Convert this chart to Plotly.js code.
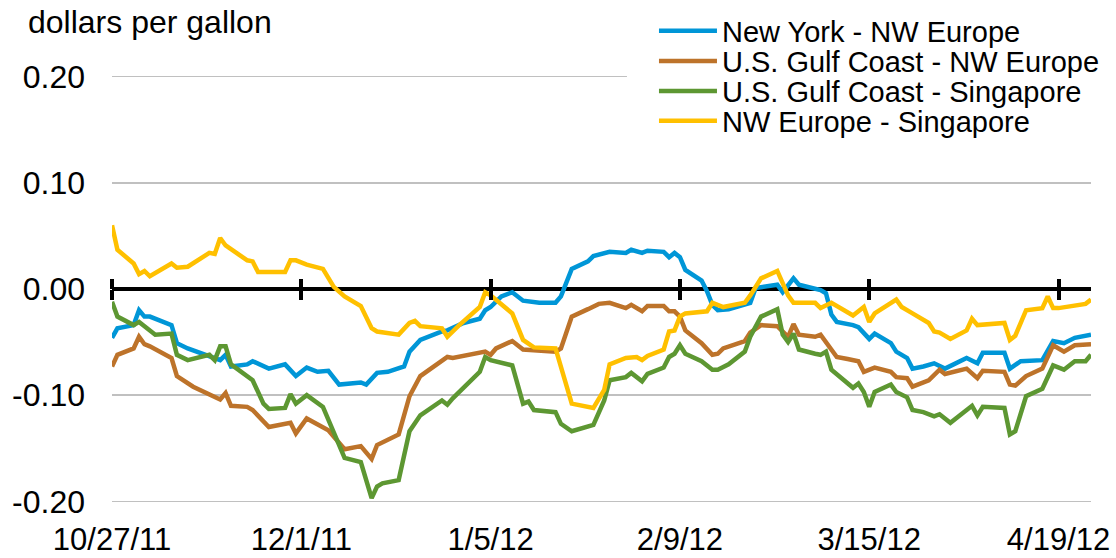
<!DOCTYPE html>
<html>
<head>
<meta charset="utf-8">
<script src="https://cdn.plot.ly/plotly-3.0.1.min.js"></script>
<style>html,body{margin:0;padding:0;background:#fff;}#chart{width:1116px;height:558px;}</style>
</head>
<body>
<div id="chart"></div>
<script>
// ---------- data ----------
const seriesNames = ["New York - NW Europe", "U.S. Gulf Coast - NW Europe", "U.S. Gulf Coast - Singapore", "NW Europe - Singapore"];

const nyDates = ["2011-10-27","2011-10-28","2011-10-31","2011-11-01","2011-11-02","2011-11-03","2011-11-07","2011-11-08","2011-11-10","2011-11-13","2011-11-16","2011-11-17","2011-11-18","2011-11-21","2011-11-22","2011-11-25","2011-11-28","2011-11-30","2011-12-02","2011-12-04","2011-12-06","2011-12-08","2011-12-12","2011-12-13","2011-12-15","2011-12-17","2011-12-20","2011-12-21","2011-12-23","2011-12-27","2011-12-28","2011-12-31","2012-01-03","2012-01-04","2012-01-05","2012-01-07","2012-01-09","2012-01-11","2012-01-14","2012-01-17","2012-01-18","2012-01-20","2012-01-23","2012-01-24","2012-01-26","2012-01-27","2012-01-30","2012-01-31","2012-02-02","2012-02-03","2012-02-06","2012-02-07","2012-02-08","2012-02-09","2012-02-10","2012-02-13","2012-02-14","2012-02-15","2012-02-16","2012-02-18","2012-02-22","2012-02-23","2012-02-27","2012-02-28","2012-03-01","2012-03-02","2012-03-06","2012-03-07","2012-03-08","2012-03-09","2012-03-12","2012-03-13","2012-03-15","2012-03-16","2012-03-19","2012-03-20","2012-03-22","2012-03-23","2012-03-25","2012-03-27","2012-03-29","2012-04-02","2012-04-04","2012-04-05","2012-04-09","2012-04-10","2012-04-12","2012-04-16","2012-04-18","2012-04-20","2012-04-22","2012-04-25"];
const nyValues = [-0.046,-0.037,-0.034,-0.020,-0.026,-0.026,-0.034,-0.051,-0.056,-0.062,-0.067,-0.062,-0.073,-0.071,-0.068,-0.075,-0.071,-0.082,-0.074,-0.078,-0.077,-0.090,-0.088,-0.090,-0.079,-0.078,-0.073,-0.059,-0.048,-0.040,-0.039,-0.032,-0.028,-0.020,-0.017,-0.007,-0.003,-0.011,-0.013,-0.013,-0.007,0.019,0.026,0.031,0.034,0.035,0.034,0.037,0.034,0.036,0.035,0.030,0.034,0.030,0.018,0.008,-0.002,-0.015,-0.020,-0.019,-0.013,0.001,0.004,-0.003,0.010,0.004,-0.001,-0.004,-0.024,-0.031,-0.034,-0.036,-0.047,-0.042,-0.051,-0.059,-0.065,-0.075,-0.073,-0.070,-0.075,-0.065,-0.070,-0.060,-0.060,-0.075,-0.068,-0.067,-0.049,-0.051,-0.046,-0.043];

const gcEuDates = ["2011-10-27","2011-10-28","2011-10-31","2011-11-01","2011-11-02","2011-11-03","2011-11-07","2011-11-08","2011-11-11","2011-11-15","2011-11-16","2011-11-17","2011-11-18","2011-11-21","2011-11-22","2011-11-25","2011-11-29","2011-11-30","2011-12-02","2011-12-06","2011-12-09","2011-12-12","2011-12-14","2011-12-15","2011-12-19","2011-12-21","2011-12-23","2011-12-28","2011-12-29","2012-01-04","2012-01-05","2012-01-06","2012-01-09","2012-01-11","2012-01-17","2012-01-18","2012-01-20","2012-01-23","2012-01-25","2012-01-27","2012-01-30","2012-01-31","2012-02-02","2012-02-03","2012-02-06","2012-02-07","2012-02-08","2012-02-09","2012-02-10","2012-02-13","2012-02-15","2012-02-16","2012-02-17","2012-02-21","2012-02-22","2012-02-24","2012-02-27","2012-02-29","2012-03-01","2012-03-02","2012-03-05","2012-03-06","2012-03-07","2012-03-09","2012-03-11","2012-03-13","2012-03-14","2012-03-16","2012-03-19","2012-03-20","2012-03-22","2012-03-23","2012-03-26","2012-03-28","2012-03-29","2012-04-02","2012-04-04","2012-04-05","2012-04-09","2012-04-10","2012-04-11","2012-04-13","2012-04-16","2012-04-18","2012-04-20","2012-04-22","2012-04-25"];
const gcEuValues = [-0.073,-0.062,-0.056,-0.045,-0.052,-0.054,-0.065,-0.082,-0.092,-0.101,-0.104,-0.098,-0.110,-0.111,-0.114,-0.130,-0.126,-0.136,-0.122,-0.133,-0.151,-0.148,-0.160,-0.147,-0.137,-0.101,-0.082,-0.064,-0.065,-0.059,-0.062,-0.056,-0.049,-0.057,-0.059,-0.056,-0.026,-0.019,-0.014,-0.013,-0.018,-0.015,-0.021,-0.016,-0.016,-0.021,-0.021,-0.026,-0.039,-0.051,-0.062,-0.061,-0.056,-0.049,-0.041,-0.034,-0.035,-0.045,-0.033,-0.043,-0.045,-0.043,-0.050,-0.064,-0.066,-0.068,-0.078,-0.074,-0.078,-0.083,-0.084,-0.092,-0.086,-0.076,-0.080,-0.075,-0.084,-0.077,-0.078,-0.090,-0.091,-0.082,-0.075,-0.053,-0.059,-0.053,-0.052];

const gcSgDates = ["2011-10-27","2011-10-28","2011-10-31","2011-11-01","2011-11-04","2011-11-07","2011-11-08","2011-11-10","2011-11-14","2011-11-15","2011-11-16","2011-11-17","2011-11-18","2011-11-21","2011-11-22","2011-11-24","2011-11-25","2011-11-28","2011-11-29","2011-11-30","2011-12-02","2011-12-05","2011-12-07","2011-12-09","2011-12-12","2011-12-14","2011-12-15","2011-12-16","2011-12-19","2011-12-21","2011-12-23","2011-12-27","2011-12-28","2011-12-29","2012-01-03","2012-01-04","2012-01-05","2012-01-09","2012-01-11","2012-01-12","2012-01-13","2012-01-17","2012-01-18","2012-01-20","2012-01-24","2012-01-26","2012-01-27","2012-01-30","2012-01-31","2012-02-02","2012-02-03","2012-02-06","2012-02-07","2012-02-08","2012-02-09","2012-02-10","2012-02-13","2012-02-15","2012-02-16","2012-02-18","2012-02-21","2012-02-22","2012-02-24","2012-02-27","2012-02-28","2012-02-29","2012-03-01","2012-03-02","2012-03-05","2012-03-06","2012-03-07","2012-03-08","2012-03-12","2012-03-13","2012-03-14","2012-03-15","2012-03-16","2012-03-19","2012-03-20","2012-03-22","2012-03-23","2012-03-25","2012-03-27","2012-03-28","2012-03-30","2012-04-03","2012-04-04","2012-04-05","2012-04-09","2012-04-10","2012-04-11","2012-04-13","2012-04-16","2012-04-18","2012-04-20","2012-04-22","2012-04-24","2012-04-25"];
const gcSgValues = [-0.012,-0.026,-0.034,-0.031,-0.043,-0.042,-0.062,-0.067,-0.062,-0.067,-0.054,-0.054,-0.071,-0.083,-0.086,-0.108,-0.113,-0.112,-0.099,-0.108,-0.100,-0.111,-0.136,-0.159,-0.163,-0.197,-0.186,-0.183,-0.180,-0.134,-0.119,-0.105,-0.109,-0.103,-0.078,-0.064,-0.067,-0.072,-0.108,-0.106,-0.114,-0.116,-0.127,-0.134,-0.128,-0.105,-0.086,-0.083,-0.079,-0.087,-0.080,-0.074,-0.064,-0.061,-0.053,-0.061,-0.068,-0.076,-0.076,-0.071,-0.059,-0.045,-0.026,-0.019,-0.043,-0.050,-0.042,-0.057,-0.061,-0.062,-0.059,-0.076,-0.093,-0.089,-0.097,-0.111,-0.097,-0.090,-0.097,-0.102,-0.114,-0.116,-0.120,-0.118,-0.126,-0.110,-0.119,-0.111,-0.112,-0.137,-0.134,-0.101,-0.094,-0.072,-0.076,-0.068,-0.068,-0.062];

const euSgDates = ["2011-10-27","2011-10-28","2011-10-31","2011-11-01","2011-11-02","2011-11-03","2011-11-07","2011-11-08","2011-11-10","2011-11-14","2011-11-15","2011-11-16","2011-11-17","2011-11-21","2011-11-22","2011-11-23","2011-11-25","2011-11-28","2011-11-29","2011-11-30","2011-12-02","2011-12-05","2011-12-07","2011-12-09","2011-12-12","2011-12-14","2011-12-15","2011-12-19","2011-12-21","2011-12-22","2011-12-23","2011-12-27","2011-12-28","2011-12-30","2012-01-03","2012-01-04","2012-01-05","2012-01-09","2012-01-11","2012-01-13","2012-01-17","2012-01-20","2012-01-24","2012-01-26","2012-01-27","2012-01-30","2012-02-01","2012-02-02","2012-02-03","2012-02-06","2012-02-07","2012-02-08","2012-02-09","2012-02-10","2012-02-14","2012-02-15","2012-02-17","2012-02-21","2012-02-22","2012-02-24","2012-02-27","2012-02-29","2012-03-01","2012-03-05","2012-03-06","2012-03-08","2012-03-12","2012-03-14","2012-03-15","2012-03-16","2012-03-20","2012-03-21","2012-03-23","2012-03-26","2012-03-27","2012-03-28","2012-03-30","2012-04-02","2012-04-03","2012-04-04","2012-04-09","2012-04-10","2012-04-11","2012-04-13","2012-04-16","2012-04-17","2012-04-18","2012-04-19","2012-04-24","2012-04-25"];
const euSgValues = [0.060,0.037,0.024,0.014,0.017,0.012,0.024,0.020,0.021,0.034,0.033,0.048,0.041,0.027,0.026,0.016,0.016,0.016,0.027,0.027,0.023,0.019,0.002,-0.007,-0.016,-0.037,-0.040,-0.043,-0.032,-0.030,-0.035,-0.037,-0.045,-0.035,-0.017,-0.003,-0.006,-0.023,-0.048,-0.055,-0.056,-0.108,-0.112,-0.095,-0.071,-0.065,-0.064,-0.067,-0.063,-0.057,-0.040,-0.039,-0.026,-0.023,-0.021,-0.013,-0.017,-0.013,-0.006,0.010,0.017,-0.006,-0.013,-0.013,-0.018,-0.013,-0.025,-0.017,-0.031,-0.023,-0.010,-0.017,-0.023,-0.032,-0.040,-0.041,-0.047,-0.039,-0.028,-0.034,-0.032,-0.048,-0.044,-0.020,-0.018,-0.007,-0.018,-0.018,-0.014,-0.010];

const tickDates = ["2011-10-27","2011-12-01","2012-01-05","2012-02-09","2012-03-15","2012-04-19"];
const tickLabels = ["10/27/11","12/1/11","1/5/12","2/9/12","3/15/12","4/19/12"];
const yTickValues = [-0.2,-0.1,0,0.1,0.2];
const yTickLabels = ["-0.20","-0.10","0.00","0.10","0.20"];
const yAxisLabel = "dollars per gallon";
const xRange = ["2011-10-27","2012-04-25"];
const yRange = [-0.2025, 0.2025];

const colors = ["#0096D7","#BD732A","#5D9732","#FFC000"];
// ---------- chart ----------
const FONT = "Liberation Sans, Arial, sans-serif";
const xs = [nyDates, gcEuDates, gcSgDates, euSgDates];
const ys = [nyValues, gcEuValues, gcSgValues, euSgValues];
const legendIds = ["legend","legend2","legend3","legend4"];
const xAxisIds = ["x","x2","x3","x3"];
const traces = seriesNames.map((name,i)=>({
  type:"scatter", mode:"lines", name:name, x:xs[i], y:ys[i],
  xaxis:xAxisIds[i], yaxis:"y",
  line:{color:colors[i], width:4.5}, legend:legendIds[i], hoverinfo:"skip"
}));

function legendCfg(row){
  return {x:0.5536, xanchor:"left", y:[1.100,1.030,0.960,0.891][row], yanchor:"middle",
    bgcolor:"rgba(0,0,0,0)", borderwidth:0, itemwidth:58,
    font:{family:FONT, size:29, color:"#000"}};
}

function tickAxis(side){
  return {type:"date", range:xRange, overlaying:"x", anchor:"free", position:0.5, side:side,
    tickmode:"array", tickvals:tickDates, showticklabels:false,
    ticks:"outside", ticklen:10, tickwidth:4, tickcolor:"#000",
    showgrid:false, zeroline:false, showline:false, fixedrange:true};
}

const layout = {
  width:1116, height:558,
  margin:{l:112, r:25, t:74, b:54, autoexpand:false},
  paper_bgcolor:"#fff", plot_bgcolor:"#fff",
  font:{family:FONT, size:29, color:"#000"},
  showlegend:true,
  legend:legendCfg(0), legend2:legendCfg(1), legend3:legendCfg(2), legend4:legendCfg(3),
  xaxis:{type:"date", range:xRange, tickmode:"array", tickvals:tickDates, ticktext:tickLabels,
    showgrid:false, zeroline:false, showline:false, ticks:"", ticklabelstandoff:14,
    tickfont:{family:FONT, size:31, color:"#000"}, fixedrange:true},
  xaxis2:tickAxis("bottom"),
  xaxis3:tickAxis("top"),
  yaxis:{range:yRange, tickmode:"array", tickvals:yTickValues, ticktext:yTickLabels,
    showgrid:true, gridcolor:"#c0c0c0", gridwidth:1.5,
    zeroline:true, zerolinecolor:"#000", zerolinewidth:4,
    showline:false, ticks:"", ticklabelstandoff:26,
    tickfont:{family:FONT, size:32, color:"#000"}, fixedrange:true},
  shapes:[{type:"rect", xref:"paper", yref:"y", x0:0.526, x1:1.02, y0:0.196, y1:0.204,
    fillcolor:"#fff", line:{width:0}, layer:"above"}],
  annotations:[{text:yAxisLabel, xref:"paper", yref:"paper", x:-0.088, y:1.121,
    xanchor:"left", yanchor:"middle", showarrow:false,
    font:{family:FONT, size:32, color:"#000"}}]
};

Plotly.newPlot("chart", traces, layout, {displayModeBar:false, staticPlot:true});
</script>
</body>
</html>
